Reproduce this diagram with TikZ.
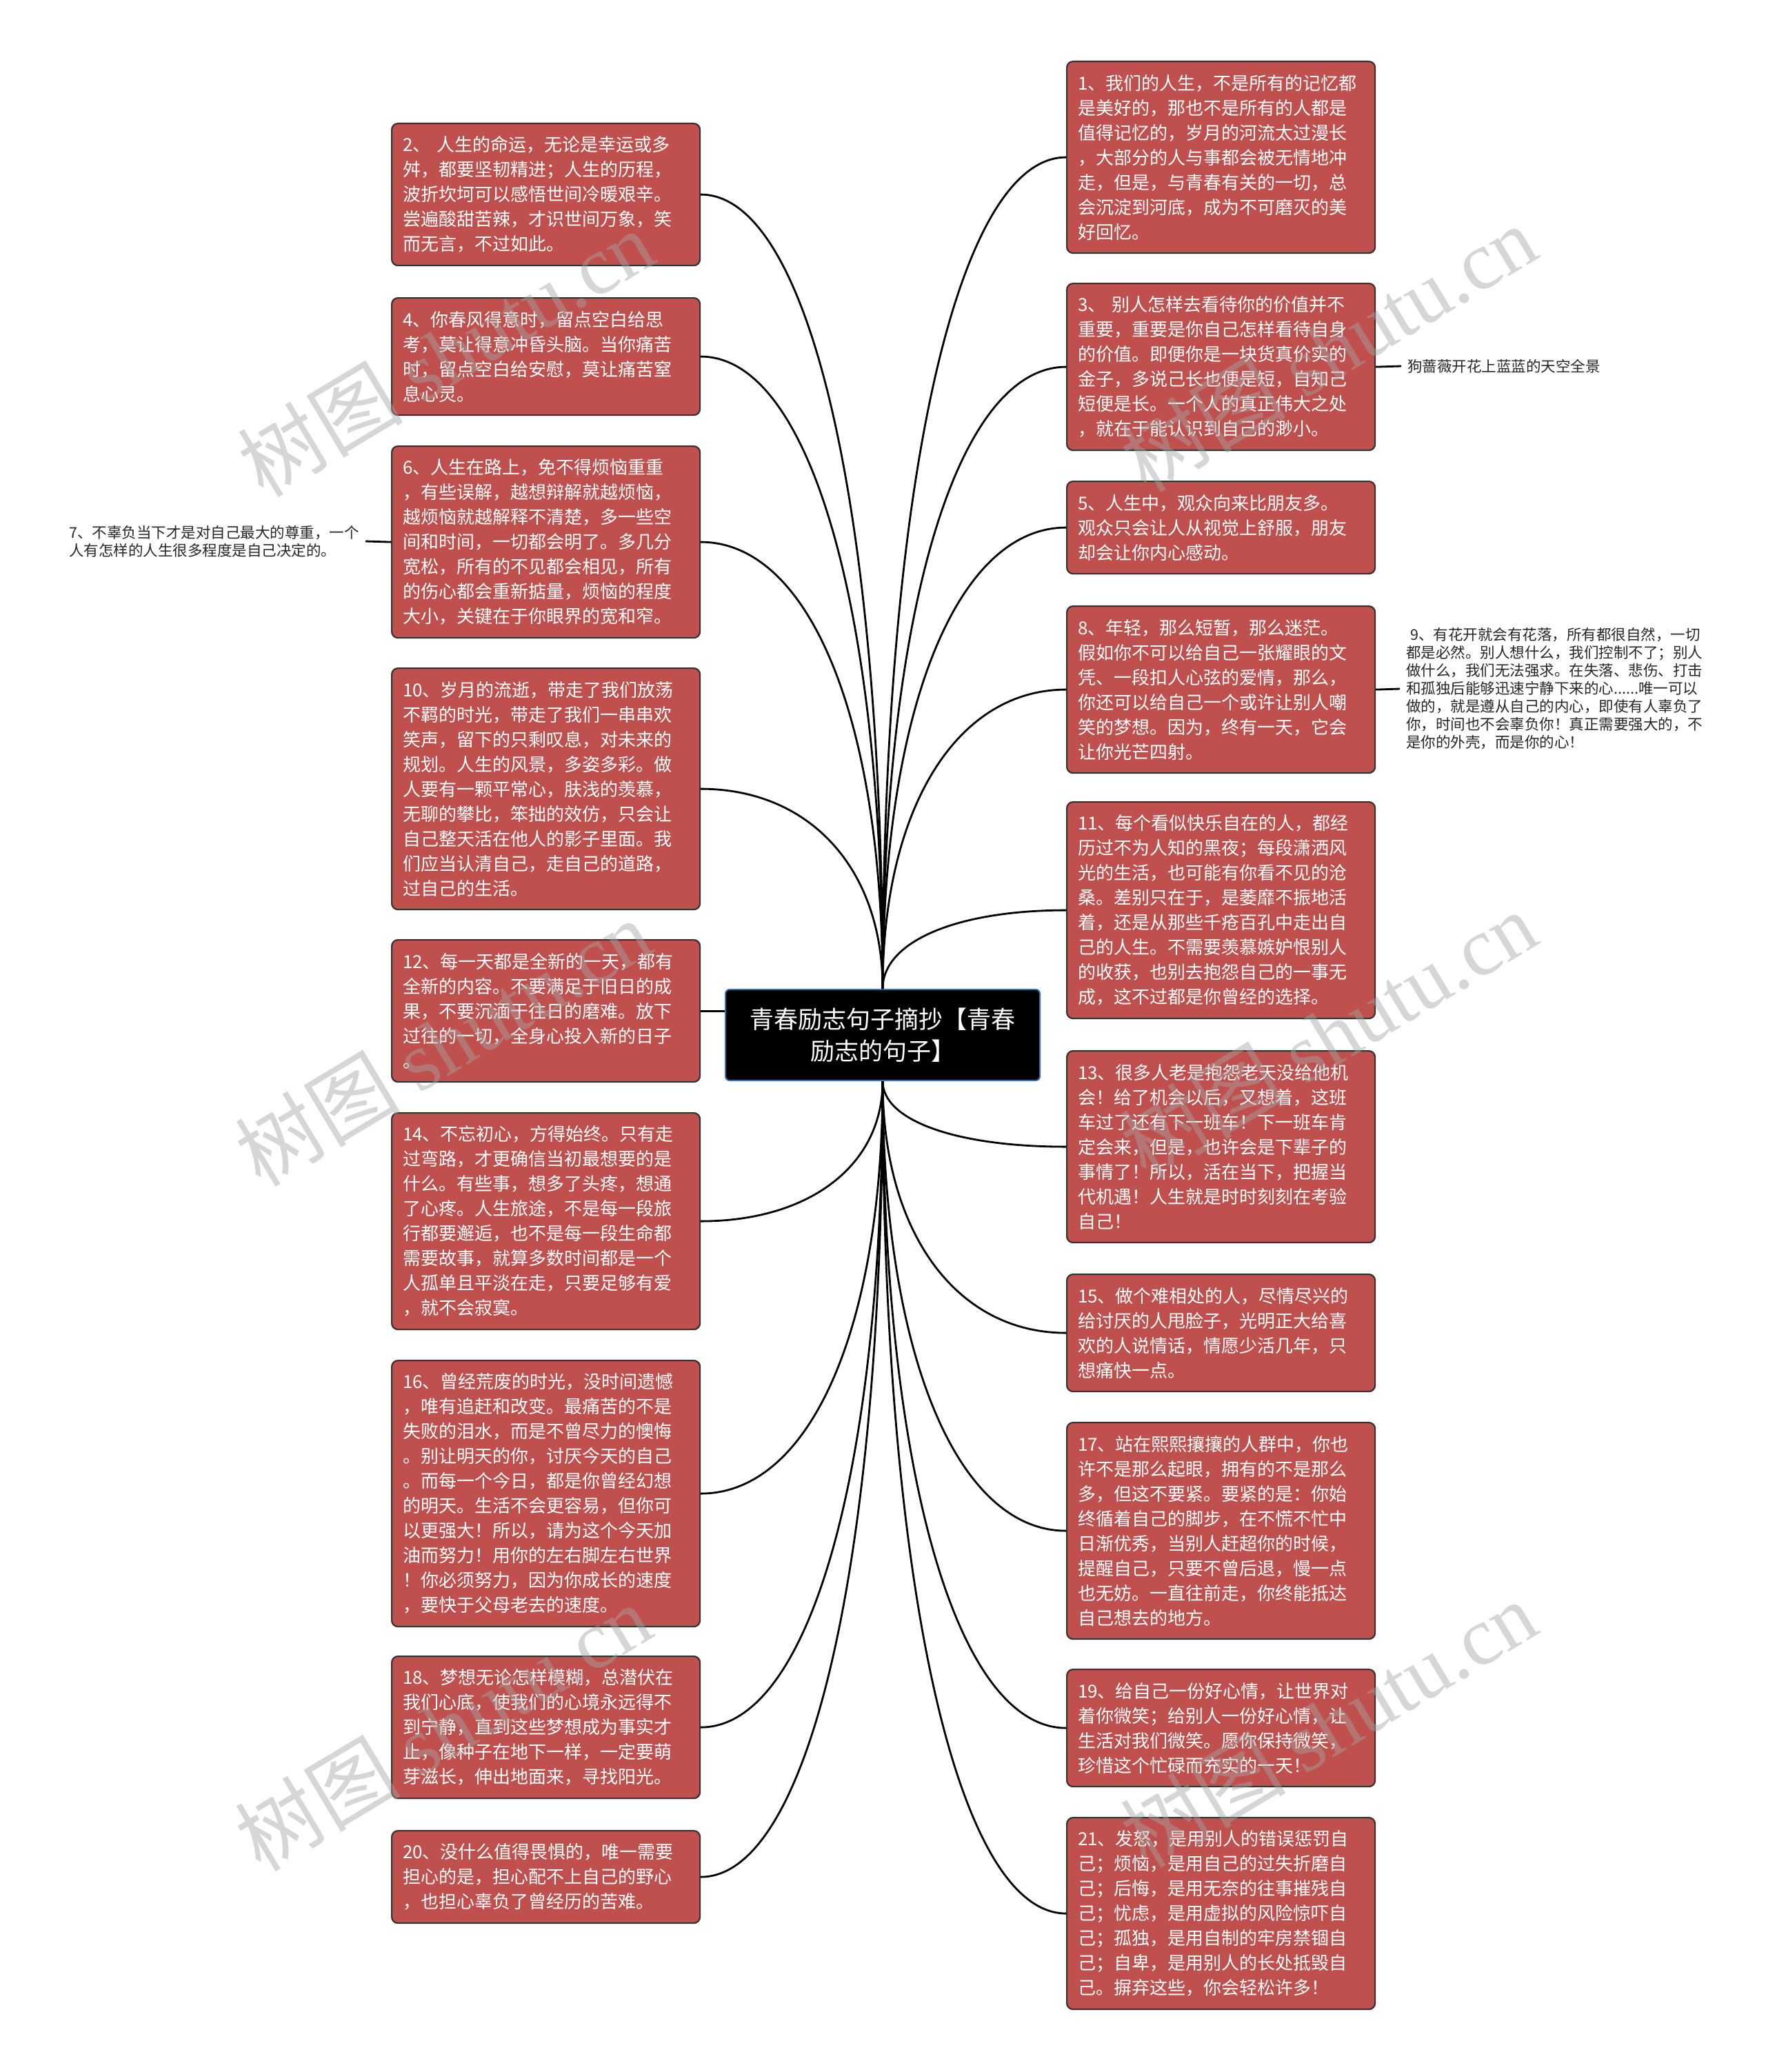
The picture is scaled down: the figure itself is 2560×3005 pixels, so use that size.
\documentclass[tikz,border=0pt]{standalone}
\usepackage{fontspec}
\setmainfont{Noto Sans CJK SC}
\newfontfamily\wmserif{Liberation Serif}
\usetikzlibrary{calc}
\definecolor{boxred}{HTML}{C0504D}
\definecolor{boxedge}{HTML}{333333}
\definecolor{rootedge}{HTML}{3A6FB0}
\definecolor{wmgray}{RGB}{165,165,165}
\begin{document}
\begin{tikzpicture}[x=1pt,y=-1pt,
  quote/.style={rectangle, rounded corners=9pt, draw=boxedge, line width=2.2pt,
    fill=boxred, text=white, font=\fontsize{26}{36}\selectfont,
    text width=415pt, align=left, inner xsep=16pt, inner ysep=0pt, anchor=north west},
  boxh/.style={minimum height=#1pt},
  root/.style={rectangle, rounded corners=6pt, draw=rootedge, line width=2pt,
    fill=black, text=white, font=\fontsize{35}{46}\selectfont, align=center,
    minimum width=456pt, minimum height=132pt, inner sep=0pt},
  note/.style={font=\fontsize{21.5}{26}\selectfont, text=black!85, align=left, inner xsep=9pt, inner ysep=0pt},
  conn/.style={draw=black, line width=2.8pt},
  wm/.style={font=\fontsize{120}{120}\selectfont, text=wmgray, opacity=0.45, rotate=31}
]
\fill[white] (0,0) rectangle (2560,3005);
\useasboundingbox (0,0) rectangle (2560,3005);

% root
\node[root] (root) at (1280,1501) {青春励志句子摘抄【青春\\励志的句子】};

% left column
\node[quote, boxh=206] (b2) at (567,178) {2、 人生的命运，无论是幸运或多\\舛，都要坚韧精进；人生的历程，\\波折坎坷可以感悟世间冷暖艰辛。\\尝遍酸甜苦辣，才识世间万象，笑\\而无言，不过如此。};
\node[quote, boxh=170] (b4) at (567,431) {4、你春风得意时，留点空白给思\\考，莫让得意冲昏头脑。当你痛苦\\时，留点空白给安慰，莫让痛苦窒\\息心灵。};
\node[quote, boxh=278] (b6) at (567,646) {6、人生在路上，免不得烦恼重重\\，有些误解，越想辩解就越烦恼，\\越烦恼就越解释不清楚，多一些空\\间和时间，一切都会明了。多几分\\宽松，所有的不见都会相见，所有\\的伤心都会重新掂量，烦恼的程度\\大小，关键在于你眼界的宽和窄。};
\node[quote, boxh=350] (b10) at (567,968) {10、岁月的流逝，带走了我们放荡\\不羁的时光，带走了我们一串串欢\\笑声，留下的只剩叹息，对未来的\\规划。人生的风景，多姿多彩。做\\人要有一颗平常心，肤浅的羡慕，\\无聊的攀比，笨拙的效仿，只会让\\自己整天活在他人的影子里面。我\\们应当认清自己，走自己的道路，\\过自己的生活。};
\node[quote, boxh=206] (b12) at (567,1362) {12、每一天都是全新的一天，都有\\全新的内容。不要满足于旧日的成\\果，不要沉湎于往日的磨难。放下\\过往的一切，全身心投入新的日子\\。};
\node[quote, boxh=314] (b14) at (567,1613) {14、不忘初心，方得始终。只有走\\过弯路，才更确信当初最想要的是\\什么。有些事，想多了头疼，想通\\了心疼。人生旅途，不是每一段旅\\行都要邂逅，也不是每一段生命都\\需要故事，就算多数时间都是一个\\人孤单且平淡在走，只要足够有爱\\，就不会寂寞。};
\node[quote, boxh=386] (b16) at (567,1972) {16、曾经荒废的时光，没时间遗憾\\，唯有追赶和改变。最痛苦的不是\\失败的泪水，而是不曾尽力的懊悔\\。别让明天的你，讨厌今天的自己\\。而每一个今日，都是你曾经幻想\\的明天。生活不会更容易，但你可\\以更强大！所以，请为这个今天加\\油而努力！用你的左右脚左右世界\\！你必须努力，因为你成长的速度\\，要快于父母老去的速度。};
\node[quote, boxh=206] (b18) at (567,2401) {18、梦想无论怎样模糊，总潜伏在\\我们心底，使我们的心境永远得不\\到宁静，直到这些梦想成为事实才\\止，像种子在地下一样，一定要萌\\芽滋长，伸出地面来，寻找阳光。};
\node[quote, boxh=134] (b20) at (567,2654) {20、没什么值得畏惧的，唯一需要\\担心的是，担心配不上自己的野心\\，也担心辜负了曾经历的苦难。};

% right column
\node[quote, boxh=278] (b1) at (1546,88) {1、我们的人生，不是所有的记忆都\\是美好的，那也不是所有的人都是\\值得记忆的，岁月的河流太过漫长\\，大部分的人与事都会被无情地冲\\走，但是，与青春有关的一切，总\\会沉淀到河底，成为不可磨灭的美\\好回忆。};
\node[quote, boxh=242] (b3) at (1546,410) {3、 别人怎样去看待你的价值并不\\重要，重要是你自己怎样看待自身\\的价值。即便你是一块货真价实的\\金子，多说己长也便是短，自知己\\短便是长。一个人的真正伟大之处\\，就在于能认识到自己的渺小。};
\node[quote, boxh=134] (b5) at (1546,697) {5、人生中，观众向来比朋友多。\\观众只会让人从视觉上舒服，朋友\\却会让你内心感动。};
\node[quote, boxh=242] (b8) at (1546,878) {8、年轻，那么短暂，那么迷茫。\\假如你不可以给自己一张耀眼的文\\凭、一段扣人心弦的爱情，那么，\\你还可以给自己一个或许让别人嘲\\笑的梦想。因为，终有一天，它会\\让你光芒四射。};
\node[quote, boxh=314] (b11) at (1546,1162) {11、每个看似快乐自在的人，都经\\历过不为人知的黑夜；每段潇洒风\\光的生活，也可能有你看不见的沧\\桑。差别只在于，是萎靡不振地活\\着，还是从那些千疮百孔中走出自\\己的人生。不需要羡慕嫉妒恨别人\\的收获，也别去抱怨自己的一事无\\成，这不过都是你曾经的选择。};
\node[quote, boxh=278] (b13) at (1546,1523) {13、很多人老是抱怨老天没给他机\\会！给了机会以后，又想着，这班\\车过了还有下一班车！下一班车肯\\定会来，但是，也许会是下辈子的\\事情了！所以，活在当下，把握当\\代机遇！人生就是时时刻刻在考验\\自己！};
\node[quote, boxh=170] (b15) at (1546,1847) {15、做个难相处的人，尽情尽兴的\\给讨厌的人甩脸子，光明正大给喜\\欢的人说情话，情愿少活几年，只\\想痛快一点。};
\node[quote, boxh=314] (b17) at (1546,2062) {17、站在熙熙攘攘的人群中，你也\\许不是那么起眼，拥有的不是那么\\多，但这不要紧。要紧的是：你始\\终循着自己的脚步，在不慌不忙中\\日渐优秀，当别人赶超你的时候，\\提醒自己，只要不曾后退，慢一点\\也无妨。一直往前走，你终能抵达\\自己想去的地方。};
\node[quote, boxh=170] (b19) at (1546,2420) {19、给自己一份好心情，让世界对\\着你微笑；给别人一份好心情，让\\生活对我们微笑。愿你保持微笑，\\珍惜这个忙碌而充实的一天！};
\node[quote, boxh=278] (b21) at (1546,2635) {21、发怒，是用别人的错误惩罚自\\己；烦恼，是用自己的过失折磨自\\己；后悔，是用无奈的往事摧残自\\己；忧虑，是用虚拟的风险惊吓自\\己；孤独，是用自制的牢房禁锢自\\己；自卑，是用别人的长处抵毁自\\己。摒弃这些，你会轻松许多！};

% side notes
\node[note, anchor=east] (n7) at (530,785) {7、不辜负当下才是对自己最大的尊重，一个\\人有怎样的人生很多程度是自己决定的。};
\node[note, anchor=west] (n3) at (2032,531) {狗蔷薇开花上蓝蓝的天空全景};
\node[note, anchor=west] (n9) at (2030,999) {\hspace*{6pt}9、有花开就会有花落，所有都很自然，一切\\都是必然。别人想什么，我们控制不了；别人\\做什么，我们无法强求。在失落、悲伤、打击\\和孤独后能够迅速宁静下来的心......唯一可以\\做的，就是遵从自己的内心，即使有人辜负了\\你，时间也不会辜负你！真正需要强大的，不\\是你的外壳，而是你的心！};

% connectors: upper
\foreach \b in {b2,b4,b6,b10}{
  \draw[conn] (root.north) .. controls ($(root.north)!0.6!(root.north |- \b.east)$) and ($(root.north |- \b.east)!0.4!(\b.east)$) .. (\b.east);
}
\foreach \b in {b1,b3,b5,b8,b11}{
  \draw[conn] (root.north) .. controls ($(root.north)!0.6!(root.north |- \b.west)$) and ($(root.north |- \b.west)!0.4!(\b.west)$) .. (\b.west);
}
% connectors: lower
\foreach \b in {b14,b16,b18,b20}{
  \draw[conn] (root.south) .. controls ($(root.south)!0.6!(root.south |- \b.east)$) and ($(root.south |- \b.east)!0.4!(\b.east)$) .. (\b.east);
}
\foreach \b in {b13,b15,b17,b19,b21}{
  \draw[conn] (root.south) .. controls ($(root.south)!0.6!(root.south |- \b.west)$) and ($(root.south |- \b.west)!0.4!(\b.west)$) .. (\b.west);
}
\draw[conn] (b12.east) -- (b12.east -| root.west);
\draw[conn] (n7.east) -- (b6.west);
\draw[conn] (b3.east) -- (n3.west);
\draw[conn] (b8.east) -- (n9.west);

% watermarks
\node[wm] (w1) at (646,512) {树图 {\wmserif shutu.cn}};
\node[wm] (w2) at (1926,505) {树图 {\wmserif shutu.cn}};
\node[wm] (w3) at (642,1512) {树图 {\wmserif shutu.cn}};
\node[wm] (w4) at (1926,1500) {树图 {\wmserif shutu.cn}};
\node[wm] (w5) at (642,2505) {树图 {\wmserif shutu.cn}};
\node[wm] (w6) at (1926,2500) {树图 {\wmserif shutu.cn}};
\end{tikzpicture}
\end{document}
